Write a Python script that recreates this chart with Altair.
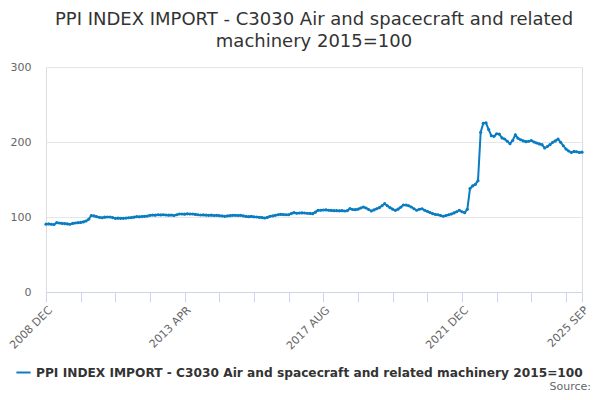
import altair as alt
import pandas as pd

# Monthly index values, 2008 DEC .. 2025 SEP
y2008 = [90.5]
y2009 = [90.8, 90.3, 90.0, 92.4, 92.0, 91.5, 91.2, 90.8, 90.3, 91.5, 92.0, 92.4]
y2010 = [92.8, 93.5, 94.7, 97.0, 102.0, 101.5, 100.4, 99.6, 99.0, 99.8, 100.0, 100.0]
y2011 = [99.2, 98.2, 98.5, 98.2, 98.2, 98.6, 99.0, 99.2, 99.8, 100.4, 100.2, 100.6]
y2012 = [100.9, 101.2, 102.2, 102.7, 102.5, 103.0, 102.8, 103.0, 102.7, 102.5, 102.7, 102.0]
y2013 = [103.0, 104.0, 104.0, 103.8, 104.2, 104.0, 104.0, 103.5, 103.0, 102.7, 102.8, 102.5]
y2014 = [102.2, 102.4, 102.0, 102.2, 101.8, 101.5, 100.9, 101.4, 101.8, 102.2, 102.2, 102.0]
y2015 = [102.2, 101.5, 100.8, 100.4, 100.8, 100.2, 100.0, 99.6, 99.2, 98.7, 99.5, 100.9]
y2016 = [101.5, 102.2, 103.0, 103.6, 103.2, 103.0, 103.0, 104.6, 105.8, 105.0, 105.3, 105.5]
y2017 = [105.3, 105.0, 104.8, 104.4, 106.5, 108.9, 109.0, 109.3, 109.5, 109.0, 108.8, 108.4]
y2018 = [108.4, 108.2, 108.5, 108.0, 108.5, 111.1, 110.0, 109.8, 110.5, 112.0, 113.3, 112.0]
y2019 = [110.0, 108.0, 109.5, 111.0, 112.4, 115.0, 117.8, 115.0, 112.4, 110.5, 108.9, 110.5]
y2020 = [113.0, 116.0, 116.0, 115.0, 113.3, 111.0, 109.0, 110.3, 111.0, 109.0, 107.6, 106.0]
y2021 = [104.5, 103.5, 103.0, 102.0, 101.0, 102.0, 103.0, 104.0, 105.4, 107.0, 109.0, 107.0]
y2022 = [105.8, 110.3, 138.0, 141.5, 143.5, 148.4, 213.0, 225.0, 225.6, 216.6, 208.5, 207.6]
y2023 = [211.0, 210.5, 205.4, 204.0, 201.0, 197.8, 202.0, 209.4, 205.0, 203.0, 201.5, 200.4]
y2024 = [201.0, 202.0, 200.0, 198.7, 197.5, 196.4, 192.0, 194.0, 196.4, 199.6, 201.5, 204.0]
y2025 = [199.6, 195.0, 190.6, 188.0, 186.0, 187.4, 187.0, 186.0, 186.5]

values = (y2008 + y2009 + y2010 + y2011 + y2012 + y2013 + y2014 + y2015 + y2016
          + y2017 + y2018 + y2019 + y2020 + y2021 + y2022 + y2023 + y2024 + y2025)

months = [p.strftime("%Y %b").upper() for p in pd.period_range("2008-12", "2025-09", freq="M")]
series_name = "PPI INDEX IMPORT - C3030 Air and spacecraft and related machinery 2015=100"

shown_labels = ["2008 DEC", "2013 APR", "2017 AUG", "2021 DEC", "2025 SEP"]
tick_values = months[::13] + [months[-1]]

df = pd.DataFrame({"month": months, "value": values, "series": series_name})

label_expr = "indexof(" + str(shown_labels) + ", datum.value) >= 0 ? datum.value : ''"

FONT = "DejaVu Sans"
COLOR = "#0a7cc1"

line = alt.Chart(df).mark_line(
    strokeWidth=2,
    point=alt.OverlayMarkDef(filled=True, size=10, color=COLOR),
).encode(
    x=alt.X("month:O", sort=None,
            scale=alt.Scale(type="point", padding=0),
            axis=alt.Axis(title=None, values=tick_values, labelExpr=label_expr,
                          labelAngle=-45, labelColor="#666666", labelFontSize=11,
                          labelFont=FONT, domainColor="#ccd6eb", tickColor="#ccd6eb",
                          tickSize=10, grid=False, labelPadding=2)),
    y=alt.Y("value:Q",
            scale=alt.Scale(domain=[0, 300], nice=False),
            axis=alt.Axis(title=None, values=[0, 100, 200, 300], labelColor="#666666",
                          labelFontSize=11, labelFont=FONT, domain=False, ticks=False,
                          gridColor="#e6e6e6", labelPadding=15)),
    color=alt.Color("series:N", scale=alt.Scale(range=[COLOR]),
                    legend=alt.Legend(title=None, orient="none", legendX=-31, legendY=297,
                                      symbolType="stroke", symbolStrokeWidth=2,
                                      symbolSize=200,
                                      labelFont=FONT, labelFontSize=12.2,
                                      labelFontWeight="bold", labelColor="#333333",
                                      labelLimit=0)),
)

source = alt.Chart(pd.DataFrame({"t": ["Source:"]})).mark_text(
    align="right", baseline="alphabetic", font=FONT, fontSize=11, color="#666666"
).encode(text="t:N", x=alt.value(545), y=alt.value(323))

chart = alt.layer(line, source).properties(
    width=536,
    height=225,
    autosize=alt.AutoSizeParams(type="none"),
    padding={"left": 38, "top": 59, "right": 10, "bottom": 100},
    title=alt.Title(
        ["PPI INDEX IMPORT - C3030 Air and spacecraft and related", "machinery 2015=100"],
        font=FONT, fontSize=18, fontWeight="normal", color="#333333",
        anchor="middle", lineHeight=22, offset=10,
    ),
).configure_view(stroke=None).configure(font=FONT)

chart.save("out.html", embed_options={"renderer": "svg", "actions": False})
